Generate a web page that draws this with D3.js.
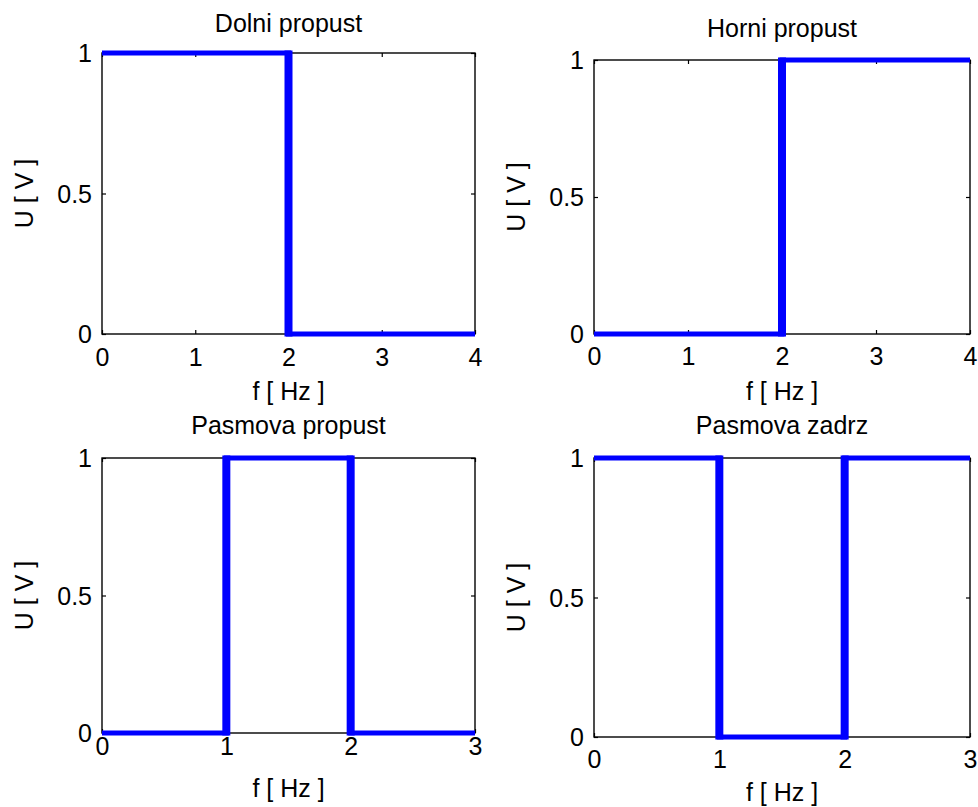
<!DOCTYPE html>
<html>
<head>
<meta charset="utf-8">
<script src="https://cdn.jsdelivr.net/npm/d3@7"></script>
<style>
  html, body { margin: 0; padding: 0; background: #fff; }
  svg { display: block; }
  text { font-family: "Liberation Sans", Arial, sans-serif; fill: #000; }
</style>
</head>
<body>
<svg id="chart" width="978" height="807"></svg>
<script>
// Ideal filter responses: frequency breakpoints and amplitudes
const lowPassF  = [0, 2, 2, 4];
const lowPassU  = [1, 1, 0, 0];
const highPassF = [0, 2, 2, 4];
const highPassU = [0, 0, 1, 1];
const bandPassF = [0, 1, 1, 2, 2, 3];
const bandPassU = [0, 0, 1, 1, 0, 0];
const bandStopF = [0, 1, 1, 2, 2, 3];
const bandStopU = [1, 1, 0, 0, 1, 1];

const titles = ["Dolni propust", "Horni propust", "Pasmova propust", "Pasmova zadrz"];
const xTicks4 = [0, 1, 2, 3, 4];
const xTicks3 = [0, 1, 2, 3];
const yTicks  = [0, 0.5, 1];
const xLabel = "f [ Hz ]";
const yLabel = "U [ V ]";

// Panel boxes on the page
const panels = [
  { f: lowPassF,  u: lowPassU,  title: titles[0], xMax: 4, xt: xTicks4,
    box: { l: 102, r: 475, t: 53,  b: 334 }, titleY: 32,  tickY: 366, labelY: 400 },
  { f: highPassF, u: highPassU, title: titles[1], xMax: 4, xt: xTicks4,
    box: { l: 594, r: 970, t: 60,  b: 334 }, titleY: 37,  tickY: 365, labelY: 400 },
  { f: bandPassF, u: bandPassU, title: titles[2], xMax: 3, xt: xTicks3,
    box: { l: 102, r: 475, t: 458, b: 733 }, titleY: 434, tickY: 755, labelY: 797 },
  { f: bandStopF, u: bandStopU, title: titles[3], xMax: 3, xt: xTicks3,
    box: { l: 594, r: 970, t: 458, b: 737 }, titleY: 434, tickY: 768, labelY: 801 }
];

const svg = d3.select("#chart");
const FS = 25;
const tickLen = 4;
const hWidth = 5;   // stroke of horizontal segments
const vWidth = 8;   // stroke of vertical segments

panels.forEach(p => {
  const { l, r, t, b } = p.box;
  const x = d3.scaleLinear().domain([0, p.xMax]).range([l, r]);
  const y = d3.scaleLinear().domain([0, 1]).range([b, t]);
  const g = svg.append("g");

  // Box outline
  g.append("rect")
    .attr("x", l).attr("y", t).attr("width", r - l).attr("height", b - t)
    .attr("fill", "none").attr("stroke", "#000").attr("stroke-width", 1.4);

  // Inward ticks on all four sides
  const axB = d3.axisBottom(x).tickValues(p.xt).tickSizeInner(-tickLen).tickSizeOuter(0).tickFormat(d3.format("d"));
  const axT = d3.axisTop(x).tickValues(p.xt).tickSizeInner(-tickLen).tickSizeOuter(0).tickFormat("");
  const axL = d3.axisLeft(y).tickValues(yTicks).tickSizeInner(-tickLen).tickSizeOuter(0).tickFormat(d3.format("~g"));
  const axR = d3.axisRight(y).tickValues(yTicks).tickSizeInner(-tickLen).tickSizeOuter(0).tickFormat("");

  const gb = g.append("g").attr("transform", `translate(0,${b})`).call(axB);
  const gt = g.append("g").attr("transform", `translate(0,${t})`).call(axT);
  const gl = g.append("g").attr("transform", `translate(${l},0)`).call(axL);
  const gr = g.append("g").attr("transform", `translate(${r},0)`).call(axR);
  [gb, gt, gl, gr].forEach(a => {
    a.select(".domain").remove();
    a.selectAll(".tick line").attr("stroke", "#000").attr("stroke-width", 1.2);
  });

  gb.selectAll(".tick text")
    .attr("font-size", FS).attr("font-family", null).attr("fill", "#000")
    .attr("dy", null).attr("y", p.tickY - b);
  gl.selectAll(".tick text")
    .attr("font-size", FS).attr("font-family", null).attr("fill", "#000")
    .attr("x", -10).attr("dy", "0.35em");

  // Response curve: thin horizontal runs, wider vertical transitions
  const pts = p.f.map((f, i) => [f, p.u[i]]);
  const line = d3.line().x(d => x(d[0])).y(d => y(d[1]));
  g.append("path").datum(pts)
    .attr("d", line)
    .attr("fill", "none").attr("stroke", "#0000ff")
    .attr("stroke-width", hWidth).attr("stroke-linejoin", "miter");

  const verticals = d3.pairs(pts).filter(([a, c]) => a[0] === c[0]);
  g.selectAll(".vseg").data(verticals).enter().append("line")
    .attr("x1", d => x(d[0][0])).attr("x2", d => x(d[1][0]))
    .attr("y1", d => y(Math.max(d[0][1], d[1][1])) - hWidth / 2)
    .attr("y2", d => y(Math.min(d[0][1], d[1][1])) + hWidth / 2)
    .attr("stroke", "#0000ff").attr("stroke-width", vWidth);

  // Title and axis labels
  g.append("text")
    .attr("x", (l + r) / 2).attr("y", p.titleY)
    .attr("text-anchor", "middle").attr("font-size", FS)
    .text(p.title);

  g.append("text")
    .attr("x", (l + r) / 2).attr("y", p.labelY)
    .attr("text-anchor", "middle").attr("font-size", FS)
    .text(xLabel);

  g.append("text")
    .attr("transform", `translate(${l - 69},${(t + b) / 2}) rotate(-90)`)
    .attr("text-anchor", "middle").attr("font-size", FS)
    .text(yLabel);
});
</script>
</body>
</html>
